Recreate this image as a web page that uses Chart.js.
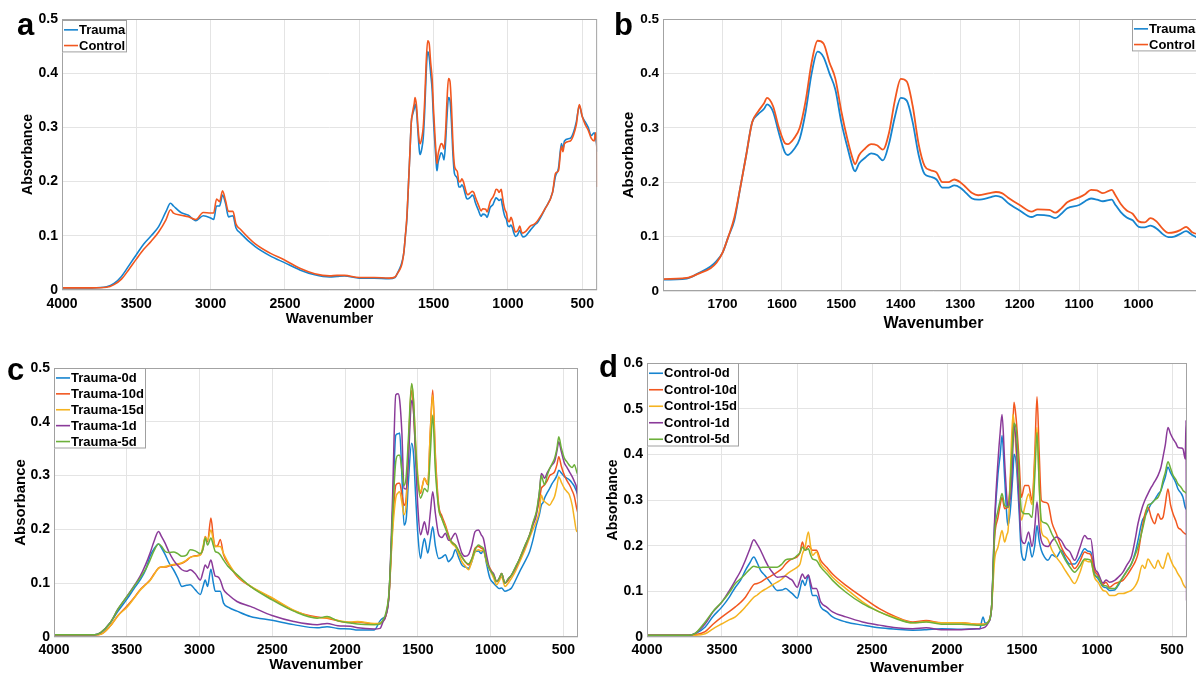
<!DOCTYPE html>
<html lang="en">
<head>
    <meta charset="UTF-8">
    <title>FTIR spectra: Trauma vs Control</title>
    <script src="https://cdn.jsdelivr.net/npm/chart.js"></script>
    <style>
        html, body {
            margin: 0;
            padding: 0;
            background: #fff;
            overflow: hidden;
        }
        body {
            position: relative;
            width: 1196px;
            height: 675px;
        }
        canvas {
            position: absolute;
        }
    </style>
</head>
<body>
    <canvas id="chartA" width="600" height="335" style="left:0;top:0"></canvas>
    <canvas id="chartB" width="606" height="335" style="left:600px;top:0"></canvas>
    <canvas id="chartC" width="600" height="340" style="left:0;top:335px"></canvas>
    <canvas id="chartD" width="600" height="342" style="left:596px;top:335px"></canvas>

    <script>
        // ---- averaged spectra (panels a and b) ----
        const wnAvg = [
            4000, 3800, 3700, 3650, 3600, 3550, 3500, 3450, 3400, 3350,
            3300, 3270, 3250, 3200, 3150, 3100, 3050, 3000, 2980, 2960,
            2940, 2920, 2900, 2880, 2850, 2830, 2800, 2700, 2600, 2500,
            2400, 2300, 2200, 2150, 2100, 2000, 1900, 1800, 1760, 1740,
            1720, 1710, 1700, 1690, 1680, 1670, 1660, 1650, 1640, 1630,
            1625, 1615, 1605, 1595, 1590, 1580, 1570, 1560, 1550, 1540,
            1530, 1520, 1510, 1500, 1490, 1480, 1477, 1470, 1460, 1450,
            1440, 1430, 1420, 1410, 1400, 1390, 1380, 1370, 1360, 1350,
            1340, 1330, 1320, 1310, 1300, 1290, 1280, 1270, 1250, 1240,
            1230, 1220, 1200, 1180, 1170, 1150, 1140, 1130, 1120, 1100,
            1090, 1080, 1070, 1060, 1045, 1040, 1030, 1020, 1010, 1000,
            990, 980, 970, 960, 950, 940, 930, 920, 910, 900,
            880, 850, 820, 800, 750, 700, 680, 660, 640, 630,
            620, 580, 560, 540, 520, 500, 480, 460, 440, 420,
            410, 402, 400
        ];
        const traumaAvg = [
            .004, .004, .006, .012, .025, .045, .065, .085, .100, .117,
            .145, .160, .155, .143, .138, .128, .137, .133, .130, .155,
            .155, .175, .160, .135, .137, .115, .105, .080, .063, .050,
            .037, .028, .024, .025, .026, .022, .022, .021, .023, .033,
            .045, .055, .070, .100, .130, .190, .250, .310, .325, .335,
            .343, .330, .290, .255, .250, .260, .280, .330, .400, .440,
            .430, .400, .370, .310, .265, .225, .220, .235, .245, .253,
            .250, .240, .270, .320, .355, .350, .310, .250, .215, .210,
            .205, .190, .190, .194, .190, .180, .170, .168, .172, .175,
            .172, .162, .148, .136, .140, .138, .134, .142, .152, .158,
            .165, .170, .168, .165, .168, .160, .145, .135, .130, .118,
            .117, .120, .115, .105, .099, .100, .105, .110, .103, .098,
            .100, .110, .120, .125, .150, .180, .210, .225, .270, .260,
            .275, .280, .290, .310, .340, .320, .310, .300, .285, .290,
            .280, .265, .255
        ];
        const controlAvg = [
            .004, .004, .005, .010, .020, .038, .057, .075, .090, .107,
            .130, .148, .142, .138, .135, .130, .143, .142, .142, .168,
            .163, .183, .165, .145, .145, .122, .112, .085, .068, .055,
            .040, .030, .026, .027, .027, .023, .023, .022, .024, .032,
            .042, .052, .070, .100, .135, .190, .250, .310, .330, .345,
            .355, .340, .300, .272, .270, .280, .300, .350, .420, .460,
            .455, .420, .390, .330, .280, .240, .233, .250, .262, .270,
            .268, .260, .290, .350, .390, .385, .340, .270, .230, .222,
            .218, .200, .200, .205, .200, .190, .180, .176, .180, .182,
            .180, .172, .158, .146, .150, .149, .144, .152, .163, .172,
            .178, .186, .185, .180, .186, .178, .160, .148, .142, .128,
            .126, .134, .128, .115, .107, .108, .112, .118, .108, .105,
            .108, .118, .122, .128, .150, .180, .215, .220, .265, .255,
            .270, .275, .285, .305, .342, .320, .305, .295, .280, .275,
            .290, .260, .190
        ];

        // ---- trauma time course (panel c) ----
        const wnC = [
            4000, 3720, 3680, 3615, 3560, 3500, 3450, 3408, 3370, 3340,
            3310, 3282, 3260, 3236, 3210, 3179, 3150, 3121, 3090, 3064,
            3030, 2995, 2975, 2961, 2945, 2922, 2905, 2892, 2875, 2858,
            2835, 2800, 2743, 2651, 2502, 2353, 2192, 2124, 2050, 1963,
            1914, 1800, 1760, 1740, 1720, 1698, 1675, 1652, 1636, 1625,
            1610, 1595, 1580, 1565, 1543, 1530, 1515, 1500, 1482, 1470,
            1455, 1432, 1415, 1398, 1380, 1357, 1335, 1311, 1290, 1277,
            1260, 1243, 1220, 1198, 1175, 1152, 1130, 1107, 1084, 1065,
            1050, 1027, 1005, 980, 959, 940, 925, 902, 880, 857,
            830, 800, 765, 732, 710, 686, 665, 652, 640, 630,
            612, 595, 578, 561, 545, 532, 515, 493, 475, 459,
            440, 425, 409, 400
        ];
        const trauma0d = [
            .004, .004, .007, .026, .048, .070, .090, .106, .125, .150,
            .165, .173, .165, .153, .138, .125, .110, .094, .096, .097,
            .088, .079, .095, .106, .094, .126, .100, .085, .085, .085,
            .063, .055, .048, .038, .031, .023, .017, .019, .016, .015,
            .013, .013, .030, .035, .040, .080, .220, .375, .378, .379,
            .300, .208, .220, .290, .360, .340, .260, .190, .146, .165,
            .183, .156, .180, .205, .170, .146, .148, .153, .140, .143,
            .150, .162, .148, .134, .130, .128, .140, .159, .160, .155,
            .162, .134, .109, .100, .094, .090, .091, .085, .087, .091,
            .105, .122, .140, .159, .180, .208, .228, .245, .250, .258,
            .268, .276, .285, .292, .300, .310, .305, .298, .295, .292,
            .286, .280, .270, .265
        ];
        const trauma10d = [
            .004, .004, .005, .020, .040, .057, .073, .088, .098, .106,
            .118, .128, .130, .130, .132, .134, .135, .137, .142, .148,
            .151, .153, .165, .187, .177, .221, .185, .168, .170, .181,
            .153, .135, .113, .094, .072, .049, .037, .035, .030, .027,
            .028, .024, .025, .030, .040, .080, .200, .282, .286, .286,
            .265, .245, .260, .350, .458, .420, .340, .290, .267, .280,
            .295, .283, .380, .459, .340, .245, .225, .208, .190, .180,
            .175, .171, .160, .149, .140, .134, .145, .165, .168, .165,
            .162, .140, .128, .115, .103, .108, .118, .100, .105, .115,
            .128, .146, .168, .190, .210, .230, .255, .276, .280, .283,
            .290, .300, .303, .307, .320, .335, .318, .300, .290, .283,
            .272, .261, .239, .230
        ];
        const trauma15d = [
            .004, .004, .005, .020, .040, .055, .072, .087, .097, .105,
            .117, .128, .130, .131, .133, .135, .136, .138, .143, .148,
            .150, .152, .170, .186, .180, .199, .180, .168, .168, .168,
            .155, .137, .115, .095, .073, .050, .036, .036, .031, .028,
            .029, .025, .026, .030, .040, .080, .190, .258, .268, .270,
            .250, .227, .250, .350, .470, .440, .360, .300, .270, .280,
            .295, .285, .380, .450, .330, .239, .220, .205, .185, .178,
            .172, .168, .155, .140, .132, .125, .140, .158, .162, .160,
            .162, .138, .125, .110, .097, .105, .112, .094, .100, .109,
            .122, .140, .162, .185, .200, .215, .235, .264, .255, .252,
            .248, .245, .252, .261, .280, .298, .288, .276, .270, .264,
            .245, .220, .196, .200
        ];
        const trauma1d = [
            .004, .004, .008, .026, .052, .075, .095, .113, .135, .156,
            .180, .196, .186, .174, .158, .143, .133, .125, .122, .125,
            .118, .106, .122, .134, .128, .143, .125, .113, .112, .106,
            .088, .078, .066, .057, .040, .029, .023, .025, .021, .020,
            .017, .015, .016, .028, .040, .080, .250, .450, .452, .440,
            .380, .276, .275, .330, .440, .420, .330, .240, .190, .200,
            .214, .190, .230, .270, .230, .190, .185, .193, .180, .180,
            .187, .193, .175, .156, .150, .153, .170, .196, .199, .190,
            .183, .150, .125, .118, .103, .110, .118, .100, .108, .115,
            .128, .146, .168, .190, .208, .227, .270, .304, .300, .295,
            .305, .313, .320, .326, .345, .363, .345, .323, .315, .307,
            .298, .289, .276, .250
        ];
        const trauma5d = [
            .004, .004, .008, .026, .052, .075, .094, .110, .126, .143,
            .162, .173, .168, .159, .157, .158, .155, .150, .152, .162,
            .160, .155, .165, .184, .171, .184, .170, .159, .157, .153,
            .143, .130, .116, .094, .069, .048, .035, .038, .030, .026,
            .024, .023, .024, .032, .045, .085, .220, .326, .338, .338,
            .310, .282, .300, .370, .471, .440, .350, .290, .258, .265,
            .276, .270, .340, .412, .310, .239, .220, .202, .188, .180,
            .174, .171, .160, .149, .140, .136, .145, .162, .171, .168,
            .165, .140, .125, .115, .103, .110, .118, .100, .108, .115,
            .130, .146, .170, .190, .212, .233, .270, .300, .290, .283,
            .300, .313, .322, .332, .350, .372, .352, .332, .325, .319,
            .315, .320, .307, .300
        ];

        // ---- control time course (panel d) ----
        const wnD = [
            4000, 3720, 3679, 3612, 3560, 3500, 3450, 3411, 3375, 3344,
            3315, 3288, 3265, 3243, 3215, 3188, 3160, 3132, 3100, 3076,
            3050, 3031, 2998, 2980, 2964, 2946, 2924, 2910, 2897, 2871,
            2842, 2800, 2763, 2674, 2563, 2451, 2339, 2228, 2139, 2038,
            1904, 1800, 1782, 1760, 1745, 1727, 1704, 1682, 1660, 1645,
            1633, 1616, 1600, 1593, 1580, 1571, 1560, 1553, 1538, 1520,
            1504, 1482, 1456, 1433, 1415, 1400, 1385, 1371, 1350, 1327,
            1300, 1271, 1238, 1210, 1182, 1149, 1115, 1082, 1060, 1042,
            1016, 993, 960, 940, 916, 882, 855, 827, 800, 771,
            745, 727, 698, 680, 660, 638, 616, 593, 575, 560,
            545, 527, 510, 493, 475, 460, 440, 427, 412, 406,
            403
        ];
        const control0d = [
            .004, .004, .007, .022, .045, .066, .088, .109, .125, .146,
            .162, .175, .162, .146, .135, .124, .112, .102, .103, .106,
            .100, .095, .085, .105, .124, .113, .135, .110, .091, .091,
            .066, .055, .044, .033, .026, .020, .017, .015, .016, .018,
            .017, .018, .018, .044, .030, .032, .060, .250, .357, .400,
            .441, .350, .260, .244, .270, .306, .360, .400, .379, .280,
            .184, .168, .208, .175, .200, .244, .210, .190, .175, .168,
            .180, .175, .190, .172, .160, .160, .175, .193, .188, .186,
            .138, .128, .110, .108, .102, .103, .115, .131, .145, .160,
            .185, .211, .255, .265, .278, .292, .300, .313, .320, .335,
            .350, .372, .360, .350, .338, .324, .315, .306, .284, .280,
            .280
        ];
        const control10d = [
            .004, .004, .005, .012, .028, .044, .056, .066, .076, .087,
            .102, .115, .117, .120, .126, .131, .136, .142, .150, .160,
            .168, .171, .176, .185, .208, .190, .200, .195, .190, .190,
            .168, .152, .138, .113, .087, .062, .044, .033, .036, .031,
            .031, .028, .028, .028, .028, .032, .060, .220, .262, .290,
            .306, .281, .283, .285, .330, .386, .470, .514, .474, .390,
            .306, .332, .332, .299, .400, .526, .400, .299, .295, .292,
            .250, .226, .197, .180, .168, .150, .165, .186, .183, .180,
            .145, .135, .115, .120, .109, .117, .120, .124, .135, .150,
            .165, .182, .240, .270, .284, .262, .248, .270, .258, .262,
            .290, .324, .290, .270, .255, .240, .235, .230, .226, .225,
            .225
        ];
        const control15d = [
            .004, .004, .004, .007, .018, .029, .038, .044, .055, .066,
            .077, .087, .092, .098, .104, .109, .115, .120, .127, .135,
            .142, .146, .153, .160, .182, .197, .230, .200, .179, .186,
            .160, .145, .131, .106, .077, .055, .042, .031, .034, .031,
            .031, .028, .028, .028, .028, .032, .060, .170, .197, .220,
            .233, .208, .225, .233, .330, .423, .488, .470, .400, .320,
            .256, .284, .313, .290, .380, .459, .330, .233, .220, .213,
            .190, .175, .160, .145, .131, .117, .140, .168, .165, .165,
            .130, .120, .102, .100, .091, .091, .095, .095, .098, .102,
            .112, .124, .157, .150, .171, .160, .150, .168, .155, .150,
            .165, .184, .170, .157, .148, .138, .128, .117, .109, .108,
            .108
        ];
        const control1d = [
            .004, .004, .008, .029, .055, .077, .102, .124, .145, .168,
            .192, .213, .203, .190, .170, .153, .140, .131, .132, .133,
            .128, .124, .109, .125, .138, .128, .136, .120, .106, .106,
            .077, .065, .055, .044, .033, .026, .020, .018, .020, .016,
            .016, .018, .018, .020, .022, .030, .060, .260, .386, .450,
            .487, .386, .300, .284, .300, .328, .420, .463, .420, .300,
            .213, .205, .230, .198, .240, .296, .240, .211, .200, .198,
            .210, .219, .211, .195, .187, .168, .195, .222, .215, .215,
            .153, .140, .118, .125, .120, .124, .132, .142, .158, .175,
            .215, .248, .284, .300, .314, .328, .340, .354, .370, .394,
            .420, .459, .445, .434, .425, .415, .414, .412, .390, .474,
            .080
        ];
        const control5d = [
            .004, .004, .008, .033, .056, .077, .098, .117, .128, .138,
            .148, .155, .153, .152, .153, .153, .153, .153, .160, .169,
            .171, .171, .179, .185, .197, .190, .193, .180, .171, .168,
            .153, .138, .124, .098, .073, .055, .040, .031, .033, .028,
            .028, .026, .026, .026, .027, .032, .060, .230, .277, .300,
            .314, .288, .285, .285, .320, .380, .440, .468, .452, .360,
            .277, .270, .270, .262, .350, .448, .330, .255, .250, .245,
            .225, .208, .186, .168, .154, .142, .155, .171, .170, .168,
            .135, .132, .112, .112, .106, .106, .118, .131, .145, .160,
            .180, .197, .234, .260, .289, .292, .300, .306, .320, .343,
            .360, .384, .370, .354, .345, .335, .328, .321, .317, .315,
            .315
        ];

        // ---- axis ticks ----
        const ticksWide = [4000, 3500, 3000, 2500, 2000, 1500, 1000, 500];
        const ticksZoom = [1700, 1600, 1500, 1400, 1300, 1200, 1100, 1000];
        const ticksAbs5 = [0, 0.1, 0.2, 0.3, 0.4, 0.5];
        const ticksAbs6 = [0, 0.1, 0.2, 0.3, 0.4, 0.5, 0.6];

        // MATLAB-like line colours
        const BLUE = '#1684cf';
        const ORANGE = '#f2571f';
        const YELLOW = '#f5b320';
        const PURPLE = '#8a3a99';
        const GREEN = '#6cb03a';

        const FONT = '"Liberation Sans", Arial, Helvetica, sans-serif';
        Chart.defaults.font.family = FONT;
        Chart.defaults.font.weight = 'bold';
        Chart.defaults.color = '#000';

        function toPoints(wn, vals) {
            return wn.map((w, i) => ({ x: w, y: vals[i] }));
        }

        // draws the box round the plot, the in-plot legend and the panel letter
        const framePlugin = {
            id: 'frame',
            afterDraw(chart, args, opts) {
                const ctx = chart.ctx;
                const a = chart.chartArea;
                ctx.save();
                ctx.strokeStyle = '#a3a3a3';
                ctx.lineWidth = 1;
                ctx.strokeRect(a.left + 0.5, a.top + 0.5, a.right - a.left - 1, a.bottom - a.top - 1);

                const lg = opts.legend;
                const sets = chart.data.datasets;
                const h = sets.length * lg.rowH + 1;
                ctx.fillStyle = '#fff';
                ctx.fillRect(lg.x, lg.y, lg.w, h);
                ctx.strokeStyle = '#a0a0a0';
                ctx.strokeRect(lg.x + 0.5, lg.y + 0.5, lg.w - 1, h - 1);
                ctx.font = 'bold ' + lg.size + 'px ' + FONT;
                ctx.textAlign = 'left';
                ctx.textBaseline = 'middle';
                sets.forEach((d, i) => {
                    const cy = lg.y + 2 + lg.rowH * (i + 0.5);
                    ctx.strokeStyle = d.borderColor;
                    ctx.lineWidth = 1.6;
                    ctx.beginPath();
                    ctx.moveTo(lg.x + 2, cy);
                    ctx.lineTo(lg.x + 16, cy);
                    ctx.stroke();
                    ctx.fillStyle = '#000';
                    ctx.fillText(d.label, lg.x + 17, cy + 0.5);
                });

                ctx.font = 'bold 31px ' + FONT;
                ctx.textBaseline = 'alphabetic';
                ctx.fillStyle = '#000';
                ctx.fillText(opts.letter.text, opts.letter.x, opts.letter.y);
                ctx.restore();
            }
        };

        function makePanel(id, p) {
            const n = p.series.length;
            return new Chart(document.getElementById(id), {
                type: 'line',
                data: {
                    datasets: p.series.map((s, i) => ({
                        label: s.label,
                        data: toPoints(s.wn, s.vals),
                        borderColor: s.color,
                        borderWidth: p.lineWidth,
                        pointRadius: 0,
                        fill: false,
                        cubicInterpolationMode: 'monotone',
                        order: n - 1 - i
                    }))
                },
                options: {
                    responsive: false,
                    animation: false,
                    devicePixelRatio: 1,
                    layout: { padding: { left: 0, top: p.top, right: p.right, bottom: 0 } },
                    plugins: {
                        legend: { display: false },
                        tooltip: { enabled: false },
                        frame: { legend: p.legend, letter: p.letter }
                    },
                    scales: {
                        x: {
                            type: 'linear',
                            reverse: true,
                            min: p.xMin,
                            max: p.xMax,
                            afterBuildTicks: s => { s.ticks = p.xTicks.map(v => ({ value: v })); },
                            afterFit: s => { s.height = p.xH; },
                            grid: { color: '#e4e4e4', drawTicks: false },
                            border: { display: false },
                            ticks: {
                                autoSkip: false,
                                maxRotation: 0,
                                padding: p.xPad,
                                font: { size: p.tickSize, weight: 'bold' },
                                callback: v => String(v)
                            },
                            title: {
                                display: true,
                                text: 'Wavenumber',
                                font: { size: p.xTitleSize, weight: 'bold' },
                                padding: { top: 0, bottom: p.xTitlePad }
                            }
                        },
                        y: {
                            min: 0,
                            max: p.yMax,
                            afterBuildTicks: s => { s.ticks = p.yTicks.map(v => ({ value: v })); },
                            afterFit: s => { s.width = p.yW; },
                            grid: { color: '#e4e4e4', drawTicks: false },
                            border: { display: false },
                            ticks: {
                                padding: 4,
                                font: { size: p.tickSize, weight: 'bold' },
                                callback: v => (v === 0 ? '0' : v.toFixed(1))
                            },
                            title: {
                                display: true,
                                text: 'Absorbance',
                                font: { size: p.yTitleSize, weight: 'bold' },
                                padding: { top: p.yTitlePad, bottom: 0 }
                            }
                        }
                    }
                },
                plugins: [framePlugin]
            });
        }

        const avgSeries = [
            { label: 'Trauma', wn: wnAvg, vals: traumaAvg, color: BLUE },
            { label: 'Control', wn: wnAvg, vals: controlAvg, color: ORANGE }
        ];

        // a: full range averages
        makePanel('chartA', {
            series: avgSeries, lineWidth: 1.6,
            top: 19, right: 2, yW: 62, xH: 45,
            xMin: 400, xMax: 4000, xTicks: ticksWide,
            yMax: 0.5, yTicks: ticksAbs5,
            tickSize: 14, xPad: 6, xTitleSize: 14, xTitlePad: 7,
            yTitleSize: 14, yTitlePad: 20,
            legend: { x: 62, y: 20, w: 65, rowH: 15.7, size: 13 },
            letter: { text: 'a', x: 17, y: 35 }
        });

        // b: fingerprint region zoom
        makePanel('chartB', {
            series: avgSeries, lineWidth: 1.8,
            top: 19, right: 2, yW: 63, xH: 44,
            xMin: 890, xMax: 1800, xTicks: ticksZoom,
            yMax: 0.5, yTicks: ticksAbs5,
            tickSize: 13.5, xPad: 5, xTitleSize: 16, xTitlePad: 2,
            yTitleSize: 15, yTitlePad: 20,
            legend: { x: 532, y: 19, w: 80, rowH: 15.7, size: 13 },
            letter: { text: 'b', x: 14, y: 35 }
        });

        // c: trauma time course
        makePanel('chartC', {
            series: [
                { label: 'Trauma-0d', wn: wnC, vals: trauma0d, color: BLUE },
                { label: 'Trauma-10d', wn: wnC, vals: trauma10d, color: ORANGE },
                { label: 'Trauma-15d', wn: wnC, vals: trauma15d, color: YELLOW },
                { label: 'Trauma-1d', wn: wnC, vals: trauma1d, color: PURPLE },
                { label: 'Trauma-5d', wn: wnC, vals: trauma5d, color: GREEN }
            ],
            lineWidth: 1.5,
            top: 33, right: 22, yW: 54, xH: 38,
            xMin: 400, xMax: 4000, xTicks: ticksWide,
            yMax: 0.5, yTicks: ticksAbs5,
            tickSize: 14, xPad: 5, xTitleSize: 15, xTitlePad: 1,
            yTitleSize: 15, yTitlePad: 12,
            legend: { x: 54, y: 33, w: 92, rowH: 15.9, size: 13 },
            letter: { text: 'c', x: 7, y: 45 }
        });

        // d: control time course
        makePanel('chartD', {
            series: [
                { label: 'Control-0d', wn: wnD, vals: control0d, color: BLUE },
                { label: 'Control-10d', wn: wnD, vals: control10d, color: ORANGE },
                { label: 'Control-15d', wn: wnD, vals: control15d, color: YELLOW },
                { label: 'Control-1d', wn: wnD, vals: control1d, color: PURPLE },
                { label: 'Control-5d', wn: wnD, vals: control5d, color: GREEN }
            ],
            lineWidth: 1.5,
            top: 28, right: 9, yW: 51, xH: 40,
            xMin: 400, xMax: 4000, xTicks: ticksWide,
            yMax: 0.6, yTicks: ticksAbs6,
            tickSize: 14, xPad: 5, xTitleSize: 15, xTitlePad: 0,
            yTitleSize: 14, yTitlePad: 9,
            legend: { x: 51, y: 28, w: 92, rowH: 16.5, size: 13 },
            letter: { text: 'd', x: 3, y: 42 }
        });
    </script>
</body>
</html>
